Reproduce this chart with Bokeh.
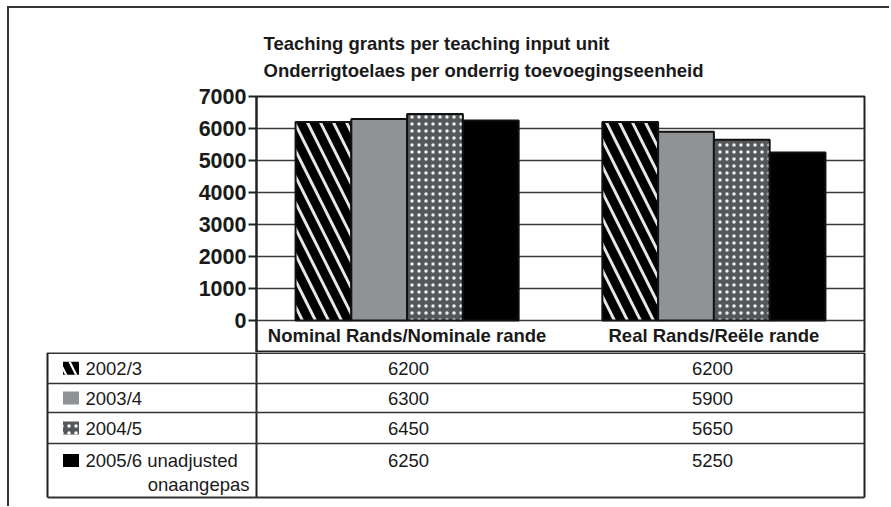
from bokeh.plotting import figure
from bokeh.models import FactorRange, Range1d, FixedTicker, Title, ColumnDataSource
from bokeh.layouts import column
from bokeh.embed import file_html
from bokeh.resources import INLINE
from bokeh.core.properties import value

# ---------------- data ----------------
title_lines = ["Teaching grants per teaching input unit",
               "Onderrigtoelaes per onderrig toevoegingseenheid"]
groups = ["Nominal Rands/Nominale rande", "Real Rands/Reële rande"]
years = ["2002/3", "2003/4", "2004/5", "2005/6"]
legend_labels = ["2002/3", "2003/4", "2004/5", "2005/6 unadjusted"]
legend_extra = "onaangepas"
nominal = [6200, 6300, 6450, 6250]
real = [6200, 5900, 5650, 5250]
y_ticks = [0, 1000, 2000, 3000, 4000, 5000, 6000, 7000]

# ---------------- styles ----------------
fills = ["#000000", "#909395", "#55585a", "#000000"]
hatches = ["\\", " ", ".", " "]
hatch_scales = [26, 8, 7, 8]
hatch_weights = [3, 1, 0.65, 1]
FONT = "Liberation Sans"
INK = "#1a1a1a"
FIG_W = 880
X0 = 9          # page x of the layout content (margin + border)

# ---------------- chart ----------------
factors = [(g, y) for g in groups for y in years]
p = figure(width=FIG_W, height=344, x_range=FactorRange(*factors, range_padding=0.7,
           range_padding_units="absolute", group_padding=1.5, factor_padding=0),
           y_range=Range1d(-1000, 7000), x_axis_location=None,
           toolbar_location=None, output_backend="svg", frame_align=False,
           min_border_left=247, min_border_right=FIG_W - 247 - 608,
           min_border_top=88, min_border_bottom=0)
p.outline_line_color = "#222222"
p.outline_line_width = 2
p.xgrid.visible = False
p.ygrid.ticker = FixedTicker(ticks=y_ticks)
p.ygrid.grid_line_color = "#3a3a3a"
p.ygrid.grid_line_width = 1.5
p.yaxis.ticker = FixedTicker(ticks=y_ticks)
p.yaxis.axis_line_color = "#222222"
p.yaxis.axis_line_width = 2
p.yaxis.major_tick_out = 8
p.yaxis.major_tick_in = 0
p.yaxis.major_tick_line_color = "#222222"
p.yaxis.major_tick_line_width = 2
p.yaxis.minor_tick_line_color = None
p.yaxis.major_label_standoff = 2
p.yaxis.major_label_text_font = FONT
p.yaxis.major_label_text_font_style = "bold"
p.yaxis.major_label_text_font_size = "21.5px"
p.yaxis.major_label_text_color = INK

for i, yr in enumerate(years):
    src = ColumnDataSource(dict(x=[(g, yr) for g in groups], top=[nominal[i], real[i]]))
    p.vbar(x="x", top="top", width=1, source=src, fill_color=fills[i],
           line_color="#111111", line_width=2,
           hatch_pattern=hatches[i], hatch_color="white", hatch_alpha=0.9,
           hatch_scale=hatch_scales[i], hatch_weight=hatch_weights[i])

# category labels in the header row of the table (below the zero line)
p.text(x=groups, y=[-470] * len(groups), text=groups, text_align="center",
       text_baseline="middle", text_font=value(FONT), text_font_style="bold",
       text_font_size="18.5px", text_color=INK)

# titles (first added sits closest to the plot)
p.add_layout(Title(text=title_lines[1], align="left", offset=7, text_font=FONT,
                   text_font_size="18.5px", text_font_style="bold", text_color=INK,
                   standoff=32), "above")
p.add_layout(Title(text=title_lines[0], align="left", offset=7, text_font=FONT,
                   text_font_size="18.5px", text_font_style="bold", text_color=INK,
                   standoff=-24), "above")

# ---------------- data table (page x, y relative to table top) ----------------
TH = 148
t = figure(width=FIG_W, height=TH, x_range=Range1d(X0, X0 + FIG_W), y_range=Range1d(TH, 0),
           x_axis_location=None, y_axis_location=None, toolbar_location=None,
           output_backend="svg", min_border=0, frame_align=False)
t.outline_line_color = None
t.grid.visible = False

L, D, R = 47, 256, 864            # table left, legend divider, right
rows = [0.5, 31, 60, 91, 145]     # horizontal rules
col_cx = [408, 712]

t.segment(x0=[D, R, L], y0=[0, 0, 0], x1=[D, R, L], y1=[rows[-1]] * 3,
          line_color="#222222", line_width=2)
t.segment(x0=[L] * len(rows), y0=rows, x1=[R] * len(rows), y1=rows,
          line_color="#333333", line_width=[2, 1.5, 1.5, 1.5, 2])

row_y = [(rows[0] + rows[1]) / 2, (rows[1] + rows[2]) / 2, (rows[2] + rows[3]) / 2, rows[3] + 17]
for i in range(4):
    t.rect(x=[70.5], y=[row_y[i]], width=16, height=13, width_units="screen",
           height_units="screen", fill_color=fills[i], line_color=None,
           hatch_pattern=hatches[i], hatch_color="white",
           hatch_scale=20 if i == 0 else 7, hatch_weight=2.2 if i == 0 else 0.8)
t.text(x=[85] * 4, y=row_y, text=legend_labels, text_align="left", text_baseline="middle",
       text_font=value(FONT), text_font_size="18.5px", text_color=INK)
t.text(x=[249], y=[row_y[3] + 24], text=[legend_extra], text_align="right",
       text_baseline="middle", text_font=value(FONT), text_font_size="18.5px", text_color=INK)
t.text(x=[col_cx[0]] * 4, y=row_y, text=[str(v) for v in nominal], text_align="center",
       text_baseline="middle", text_font=value(FONT), text_font_size="18.5px", text_color=INK)
t.text(x=[col_cx[1]] * 4, y=row_y, text=[str(v) for v in real], text_align="center",
       text_baseline="middle", text_font=value(FONT), text_font_size="18.5px", text_color=INK)

layout = column(p, t, styles={"margin-left": "7px", "margin-top": "6px",
                              "padding-bottom": "6px",
                              "border-left": "2px solid #333333",
                              "border-top": "2px solid #333333"})
open("out.html", "w").write(file_html(layout, INLINE))
